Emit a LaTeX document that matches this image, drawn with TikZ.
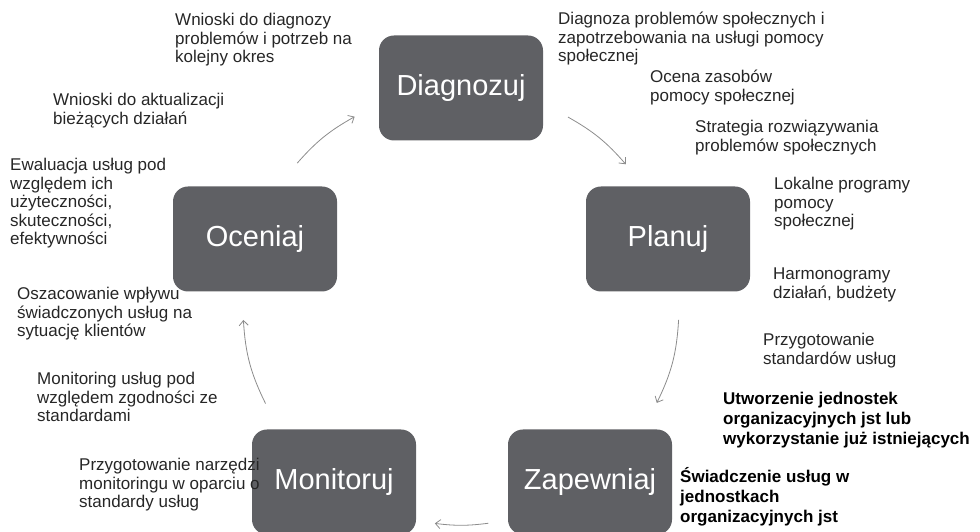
\documentclass[tikz,border=0pt]{standalone}
\usepackage{fontspec}
\setmainfont{Liberation Sans}
\usetikzlibrary{arrows.meta,calc}
\definecolor{boxgray}{RGB}{95,96,100}
\definecolor{arrgray}{RGB}{140,140,140}
\definecolor{notegray}{RGB}{38,38,38}

\begin{document}
\begin{tikzpicture}[
    x=1pt, y=1pt,
    stagebox/.style={rectangle, fill=boxgray, text=white, rounded corners=15pt,
                 minimum width=164pt, minimum height=105pt, font=\fontsize{29}{33}\selectfont},
    note/.style={anchor=north west, align=left, inner sep=0pt, text=notegray,
                 font=\fontsize{17}{18.5}\selectfont},
    notebold/.style={note, text=black, font=\bfseries\fontsize{17}{20}\selectfont},
    arr/.style={-{Straight Barb[length=5pt,width=9pt]}, line width=0.8pt, arrgray}
  ]
    \useasboundingbox (0,0) rectangle (980,532);

    % stages
    \node[stagebox] (diag) at (461,444) {Diagnozuj};
    \node[stagebox] (plan) at (668,293) {Planuj};
    \node[stagebox] (zap) at (590,50)   {Zapewniaj};
    \node[stagebox] (mon) at (334,50)   {Monitoruj};
    \node[stagebox] (ocen) at (255,293) {Oceniaj};

    % notes round the cycle
    \node[note] (wndiag) at (175,519) {Wnioski do diagnozy\\problemów i potrzeb na\\kolejny okres};
    \node[note] (wnakt) at (53,439)   {Wnioski do aktualizacji\\bieżących działań};
    \node[note] (ewal) at (10,374)    {Ewaluacja usług pod\\względem ich\\użyteczności,\\skuteczności,\\efektywności};
    \node[note] (oszac) at (17,245)   {Oszacowanie wpływu\\świadczonych usług na\\sytuację klientów};
    \node[note] (monusl) at (37,160)  {Monitoring usług pod\\względem zgodności ze\\standardami};
    \node[note] (narz) at (79,74)     {Przygotowanie narzędzi\\monitoringu w oparciu o\\standardy usług};
    \node[note] (diagprob) at (558,520) {Diagnoza problemów społecznych i\\zapotrzebowania na usługi pomocy\\społecznej};
    \node[note] (ocena) at (650,462)  {Ocena zasobów\\pomocy społecznej};
    \node[note] (strat) at (695,412)  {Strategia rozwiązywania\\problemów społecznych};
    \node[note] (lokal) at (774,355)  {Lokalne programy\\pomocy\\społecznej};
    \node[note] (harm) at (773,264)   {Harmonogramy\\działań, budżety};
    \node[note] (stand) at (763,199)  {Przygotowanie\\standardów usług};
    \node[notebold] (utw) at (723,140)  {Utworzenie jednostek\\organizacyjnych jst lub\\wykorzystanie już istniejących};
    \node[notebold] (swiad) at (680,65) {Świadczenie usług w\\jednostkach\\organizacyjnych jst};

    % cycle arrows
    \coordinate (ctr) at (461,225);
    \coordinate (dp1) at ($(ctr)+(60.6:218)$);
    \coordinate (dp2) at ($(ctr)+(40.9:218)$);
    \coordinate (pz1) at ($(ctr)+(-3.4:218)$);
    \coordinate (pz2) at ($(ctr)+(-26.1:218)$);
    \coordinate (zm1) at ($(ctr)+(-82.8:218)$);
    \coordinate (zm2) at ($(ctr)+(-96.9:218)$);
    \coordinate (mo1) at ($(ctr)+(206.3:218)$);
    \coordinate (mo2) at ($(ctr)+(183.4:218)$);
    \coordinate (od1) at ($(ctr)+(138.7:218)$);
    \coordinate (od2) at ($(ctr)+(119.2:218)$);

    \draw[arr] (dp1) to[bend left=9.85] (dp2);
    \draw[arr] (pz1) to[bend left=11.35] (pz2);
    \draw[arr] (zm1) to[bend left=7.05] (zm2);
    \draw[arr] (mo1) to[bend left=11.45] (mo2);
    \draw[arr] (od1) to[bend left=9.75] (od2);
\end{tikzpicture}
\end{document}
